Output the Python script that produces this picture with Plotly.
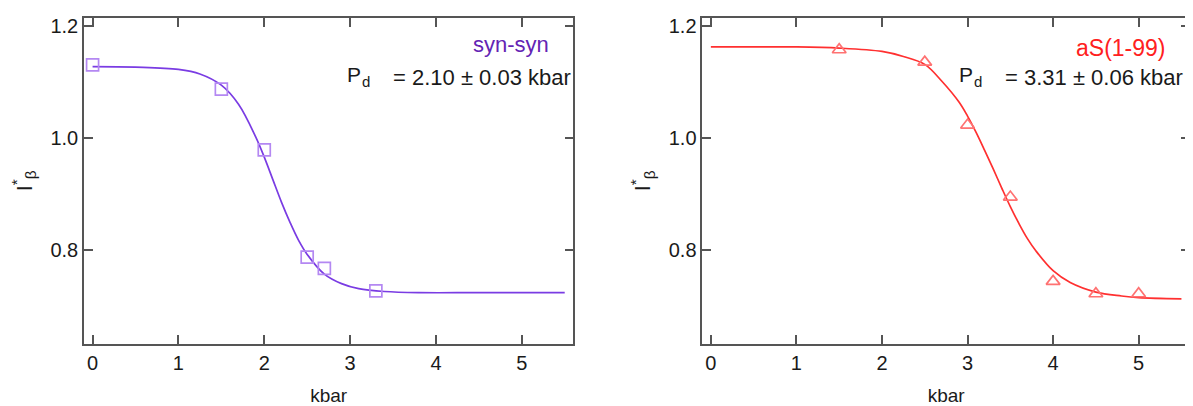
import plotly.graph_objects as go

# ---- data ----
syn_x = [0.0, 1.5, 2.0, 2.5, 2.7, 3.3]
syn_y = [1.130, 1.087, 0.979, 0.788, 0.768, 0.728]

syn_fit_x = [0.0, 0.5, 1.0, 1.25, 1.5, 1.7, 1.9, 2.0, 2.1, 2.2, 2.3, 2.4, 2.5,
             2.7, 2.9, 3.1, 3.4, 3.8, 4.5, 5.5]
syn_fit_y = [1.127, 1.126, 1.122, 1.114, 1.094, 1.060, 1.002, 0.966, 0.926, 0.886,
             0.850, 0.818, 0.793, 0.758, 0.741, 0.732, 0.727, 0.725, 0.725, 0.725]

as_x = [1.5, 2.5, 3.0, 3.5, 4.0, 4.5, 5.0]
as_y = [1.157, 1.135, 1.023, 0.895, 0.745, 0.723, 0.723]

as_fit_x = [0.0, 1.0, 1.5, 2.0, 2.25, 2.5, 2.7, 2.9, 3.0, 3.1, 3.2, 3.3, 3.4, 3.5,
            3.6, 3.7, 3.8, 4.0, 4.2, 4.5, 4.8, 5.0, 5.5]
as_fit_y = [1.162, 1.162, 1.160, 1.154, 1.145, 1.131, 1.101, 1.064, 1.039, 1.010,
            0.978, 0.945, 0.911, 0.878, 0.848, 0.821, 0.799, 0.764, 0.743, 0.726,
            0.719, 0.716, 0.714]

x_ticks = [0, 1, 2, 3, 4, 5]
y_ticks = [0.8, 1.0, 1.2]

syn_label = "syn-syn"
as_label = "aS(1-99)"
syn_pd = "= 2.10 ± 0.03 kbar"
as_pd = "= 3.31 ± 0.06 kbar"

W, H = 1193, 406
OFF = 8                      # page body margin
FW, FH = W - OFF, H - OFF    # figure size
FONT = "Liberation Sans, Arial, sans-serif"
AXC = "#555555"
TXT = "#1a1a1a"

PURPLE_LINE = "#7a3ce3"
PURPLE_MK = "#b488f2"
PURPLE_TXT = "#6424b4"
RED_LINE = "#ff3030"
RED_MK = "#ff7272"
RED_TXT = "#ff2020"

def px(x):
    return (x - OFF) / FW

def py(y):
    return 1 - (y - OFF) / FH

fig = go.Figure()

fig.add_trace(go.Scatter(x=syn_fit_x, y=syn_fit_y, mode="lines",
                         line=dict(color=PURPLE_LINE, width=1.7, shape="spline", smoothing=1.0),
                         xaxis="x", yaxis="y", showlegend=False, hoverinfo="skip"))
fig.add_trace(go.Scatter(x=syn_x, y=syn_y, mode="markers",
                         marker=dict(symbol="square-open", size=12, color=PURPLE_MK,
                                     line=dict(width=1.7, color=PURPLE_MK)),
                         xaxis="x", yaxis="y", showlegend=False))
fig.add_trace(go.Scatter(x=as_fit_x, y=as_fit_y, mode="lines",
                         line=dict(color=RED_LINE, width=1.7, shape="spline", smoothing=1.0),
                         xaxis="x2", yaxis="y2", showlegend=False, hoverinfo="skip"))
fig.add_trace(go.Scatter(x=as_x, y=as_y, mode="markers",
                         marker=dict(symbol="triangle-up-open", size=12, color=RED_MK,
                                     line=dict(width=1.7, color=RED_MK)),
                         xaxis="x2", yaxis="y2", showlegend=False))

common_x = dict(range=[-0.1, 5.6], tickvals=x_ticks, ticks="inside", ticklen=9,
                tickwidth=1.5, tickcolor=AXC, showline=True, linecolor=AXC, linewidth=1.5,
                mirror="ticks", showgrid=False, zeroline=False,
                tickfont=dict(family=FONT, size=20, color=TXT),
                title=dict(text="kbar", font=dict(family=FONT, size=19, color=TXT), standoff=18))
common_y = dict(range=[0.634, 1.2136], tickvals=y_ticks, tickformat=".1f", ticks="inside",
                ticklen=9, tickwidth=1.5, tickcolor=AXC, showline=True, linecolor=AXC,
                linewidth=1.5, mirror="ticks", showgrid=False, zeroline=False,
                tickfont=dict(family=FONT, size=20, color=TXT),
                title=dict(text="I<sup>*</sup><sub>β</sub>",
                           font=dict(family=FONT, size=22, color=TXT), standoff=12))

ydom = [py(343.3), py(15)]
fig.update_layout(
    width=FW, height=FH, margin=dict(l=0, r=0, t=0, b=0),
    paper_bgcolor="white", plot_bgcolor="white",
    xaxis=dict(domain=[px(84), px(573.3)], anchor="y", **common_x),
    yaxis=dict(domain=ydom, anchor="x", **common_y),
    xaxis2=dict(domain=[px(702.3), px(1190)], anchor="y2", **common_x),
    yaxis2=dict(domain=ydom, anchor="x2", **common_y),
)

ann = []
def add(text, x, y, size, color, xanchor="left"):
    ann.append(dict(text=text, x=px(x), y=py(y), xref="paper", yref="paper",
                    xanchor=xanchor, yanchor="middle", showarrow=False,
                    font=dict(family=FONT, size=size, color=color)))

add(syn_label, 551, 41.5, 22, PURPLE_TXT, "right")
add("P", 345, 72, 21, TXT)
add("d", 360, 79, 15, TXT)
add(syn_pd, 391, 75.4, 22, TXT)

add(as_label, 1167, 45.5, 23, RED_TXT, "right")
add("P", 957, 72, 21, TXT)
add("d", 972, 79, 15, TXT)
add(as_pd, 1003, 75.4, 22, TXT)

fig.update_layout(annotations=ann)
fig.write_html("out.html")
